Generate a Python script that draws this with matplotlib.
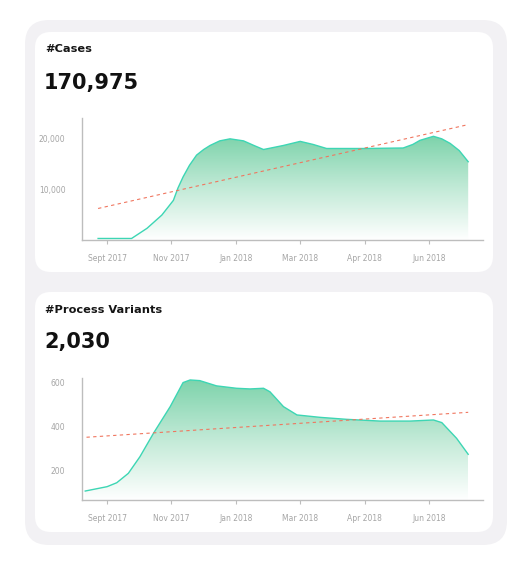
import numpy as np
import matplotlib
matplotlib.use("Agg")
import matplotlib.pyplot as plt
from matplotlib.patches import FancyBboxPatch
from matplotlib.colors import LinearSegmentedColormap

# TICK LABELS (ONE TICK PER MONTH SLOT, X IN SLOT UNITS)
month_labels = ["Sept 2017", "Nov 2017", "Jan 2018", "Mar 2018", "Apr 2018", "Jun 2018"]

# CASES SERIES
cases_x = [-0.14, 0.0, 0.38, 0.5, 0.62, 0.85, 1.03, 1.1, 1.18, 1.28, 1.39, 1.5, 1.6, 1.75,
           1.91, 2.12, 2.28, 2.43, 2.74, 3.0, 3.2, 3.41, 3.98, 4.6, 4.75, 4.86, 5.07, 5.2,
           5.33, 5.47, 5.61]
cases_y = [300, 300, 300, 1300, 2300, 4900, 7800, 10200, 12400, 14700, 16700, 17800, 18600, 19500,
           19900, 19500, 18600, 17800, 18600, 19400, 18800, 18000, 18000, 18100, 18800, 19600, 20400, 19900,
           19000, 17600, 15400]
cases_trend_x = [-0.14, 5.61]
cases_trend_y = [6200, 22700]

# PROCESS VARIANTS SERIES
variants_x = [-0.34, 0.0, 0.15, 0.33, 0.51, 0.72, 0.98, 1.18, 1.29, 1.44, 1.7, 2.01, 2.22, 2.43,
              2.53, 2.74, 2.95, 3.31, 3.72, 4.24, 4.71, 5.07, 5.2, 5.43, 5.61]
variants_y = [104, 124, 142, 185, 261, 368, 490, 600, 612, 609, 585, 574, 571, 574,
              558, 490, 452, 441, 432, 424, 424, 429, 417, 345, 272]
variants_trend_x = [-0.32, 5.61]
variants_trend_y = [350, 464]

W, H = 532, 578
fig = plt.figure(figsize=(W / 100, H / 100), dpi=100)
fig.patch.set_facecolor("white")

# FUNDO: PAINEL CINZA E CARTOES BRANCOS
bg = fig.add_axes([0, 0, 1, 1])
bg.set_xlim(0, W)
bg.set_ylim(H, 0)
bg.axis("off")
bg.add_patch(FancyBboxPatch((25, 20), 482, 525, boxstyle="round,pad=0,rounding_size=24",
                            fc="#f2f1f4", ec="none"))
for top in (32, 292):
    bg.add_patch(FancyBboxPatch((35, top), 458, 240, boxstyle="round,pad=0,rounding_size=16",
                                fc="white", ec="none"))

font = "DejaVu Sans"
bg.text(45, 49, "#Cases", fontsize=8.2, fontweight="bold", va="center", ha="left", family=font, color="#151515")
bg.text(44, 83, "170,975", fontsize=15, fontweight="bold", va="center", ha="left", family=font, color="#111111")
bg.text(45, 310, "#Process Variants", fontsize=8.2, fontweight="bold", va="center", ha="left", family=font, color="#151515")
bg.text(44, 342, "2,030", fontsize=15, fontweight="bold", va="center", ha="left", family=font, color="#111111")

green = LinearSegmentedColormap.from_list("g", ["#ffffff", "#c2ead7", "#7dd3ab"])


def area_chart(rect, xs, ys, tx, ty, ylim, yticks, yticklabels):
    ax = fig.add_axes(rect)
    ax.set_xlim(-0.39, 5.84)
    ax.set_ylim(*ylim)
    ax.set_facecolor("none")

    # PREENCHIMENTO COM GRADIENTE RECORTADO PELA AREA
    poly = ax.fill_between(xs, ylim[0], ys, color="none", lw=0)
    grad = np.linspace(0, 1, 256).reshape(-1, 1)
    img = ax.imshow(grad, cmap=green, origin="lower", aspect="auto",
                    extent=[xs[0], xs[-1], ylim[0], max(ys)], zorder=1)
    img.set_clip_path(poly.get_paths()[0], transform=ax.transData)

    ax.plot(xs, ys, color="#3dd6b4", lw=1.0, zorder=3)
    ax.plot(tx, ty, color="#f0765f", lw=0.8, ls=(0, (3, 3)), zorder=4)

    for s in ("top", "right"):
        ax.spines[s].set_visible(False)
    for s in ("left", "bottom"):
        ax.spines[s].set_color("#bdbdbd")
        ax.spines[s].set_linewidth(1.0)

    ax.set_xticks(range(len(month_labels)))
    ax.set_xticklabels(month_labels)
    ax.set_yticks(yticks)
    ax.set_yticklabels(yticklabels)
    ax.tick_params(axis="x", length=3, width=0.8, color="#bdbdbd", labelsize=5.5,
                   labelcolor="#a5a5a5", pad=7)
    ax.tick_params(axis="y", length=0, labelsize=5.5, labelcolor="#a5a5a5", pad=12)
    return ax


area_chart([82 / W, 1 - 240 / H, 401 / W, 122 / H], cases_x, cases_y,
           cases_trend_x, cases_trend_y, (0, 24000), [10000, 20000], ["10,000", "20,000"])
area_chart([82 / W, 1 - 500 / H, 401 / W, 122 / H], variants_x, variants_y,
           variants_trend_x, variants_trend_y, (63, 621), [200, 400, 600], ["200", "400", "600"])

fig.savefig("out.png", dpi=100)
